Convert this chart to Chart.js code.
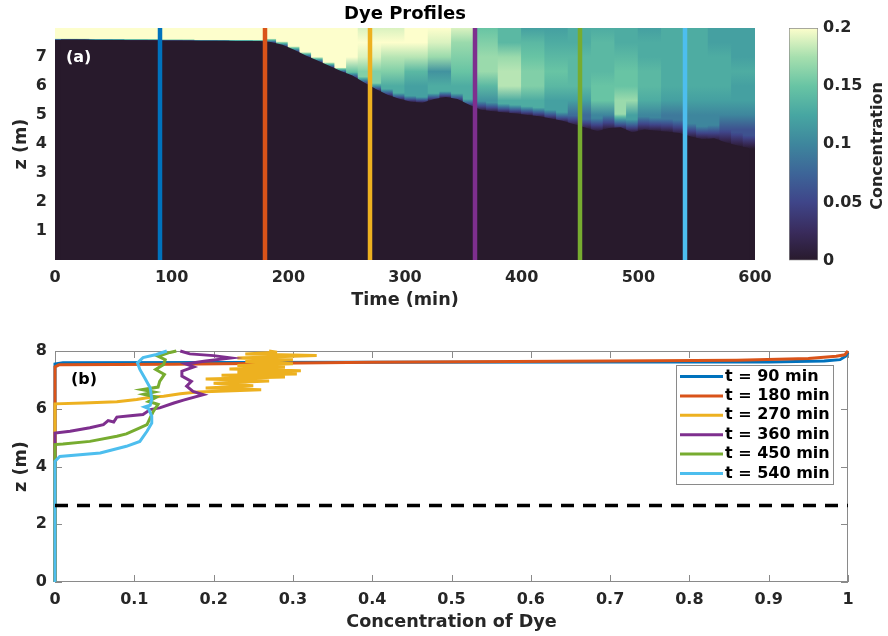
<!DOCTYPE html>
<html>
<head>
<meta charset="utf-8">
<script src="https://cdn.jsdelivr.net/npm/chart.js@4.4.1/dist/chart.umd.min.js"></script>
<style>
body{margin:0;background:#fff;}
#wrap{position:relative;width:888px;height:636px;}
canvas{position:absolute;}
</style>
</head>
<body>
<div id="wrap">
<canvas id="heat" width="780" height="315" style="left:0;top:0"></canvas>
<canvas id="cbar" width="108" height="315" style="left:780px;top:0"></canvas>
<canvas id="prof" width="888" height="316" style="left:0;top:320px"></canvas>
</div>
<script>
// ---- axes / ticks
let timeTicks = [0,100,200,300,400,500,600];
let zTicksA = [1,2,3,4,5,6,7];
let cbarTicks = [0,0.05,0.1,0.15,0.2];
let concTicks = [0,0.1,0.2,0.3,0.4,0.5,0.6,0.7,0.8,0.9,1];
let zTicksB = [0,2,4,6,8];
let zTop = 8;
let cMax = 0.2;
let dashZ = 2.65;

// ---- profile times (vertical lines in (a), curves in (b))
let profileTimes = [90,180,270,360,450,540];
let profileColors = ['#0072BD','#D95319','#EDB120','#7E2F8E','#77AC30','#4DBEEE'];

// ---- heat map: 10 min columns, depth of the dark (undyed) layer
let binTimes = [5,15,25,35,45,55,65,75,85,95,105,115,125,135,145,155,165,175,185,195,
                205,215,225,235,245,255,265,275,285,295,305,315,325,335,345,355,365,375,385,395,
                405,415,425,435,445,455,465,475,485,495,505,515,525,535,545,555,565,575,585,595];
let iface = [7.6,7.6,7.6,7.59,7.59,7.59,7.58,7.58,7.58,7.57,7.57,7.57,7.56,7.56,7.56,7.55,7.55,7.55,
             7.52,7.42,7.25,7.05,6.88,6.7,6.52,6.36,6.12,5.9,
             5.7,5.56,5.46,5.42,5.55,5.62,5.55,5.35,5.18,5.13,
             5.09,5.05,5.0,4.96,4.88,4.8,4.68,4.56,4.44,4.55,
             4.58,4.4,4.5,4.46,4.42,4.38,4.26,4.16,4.2,4.05,
             3.95,3.85];

// concentration above the interface, 20 min columns (t = 10,30,...,590), rows by depth
let edgeDepth = [0.04,0.04,0.04,0.04,0.04,0.04,0.04,0.04,0.04,
                 0.12,0.12,0.12,0.12,0.2,0.2,0.2,0.2,0.2,
                 0.3,0.3,0.3,0.3,0.3,0.45,0.45,0.45,0.45,0.45,0.45,0.45];
let rowZ = [8.0,7.5,7.0,6.5,6.0,5.5,5.0,4.5,4.0];
let conc80 = [0.2,0.2,0.2,0.2,0.2,0.2,0.2,0.2,0.2, 0.2,0.2,0.2,0.2,0.19,0.19,0.2,0.2,0.19,0.15,0.14,0.12,0.12,0.13,0.13,0.13,0.12,0.13,0.13,0.12,0.12];
let conc75 = [0,0,0,0,0,0,0,0,0, 0.2,0.2,0.2,0.2,0.2,0.2,0.2,0.19,0.17,0.16,0.14,0.14,0.13,0.13,0.14,0.13,0.13,0.13,0.13,0.12,0.12];
let conc70 = [0,0,0,0,0,0,0,0,0, 0,0.2,0.2,0.2,0.19,0.18,0.18,0.17,0.16,0.17,0.17,0.15,0.14,0.14,0.14,0.14,0.13,0.13,0.13,0.13,0.12];
let conc65 = [0,0,0,0,0,0,0,0,0, 0,0,0,0.15,0.16,0.16,0.14,0.11,0.15,0.17,0.18,0.16,0.15,0.14,0.14,0.15,0.14,0.13,0.13,0.13,0.13];
let conc60 = [0,0,0,0,0,0,0,0,0, 0,0,0,0,0.12,0.13,0.12,0.13,0.13,0.14,0.18,0.16,0.14,0.14,0.15,0.15,0.14,0.13,0.13,0.13,0.12];
let conc55 = [0,0,0,0,0,0,0,0,0, 0,0,0,0,0,0,0.08,0.06,0.08,0.11,0.13,0.13,0.12,0.12,0.15,0.17,0.13,0.12,0.12,0.12,0.12];
let conc50 = [0,0,0,0,0,0,0,0,0, 0,0,0,0,0,0,0,0,0,0,0, 0.07,0.07,0.08,0.1,0.12,0.1,0.09,0.1,0.1,0.1];
let conc45 = [0,0,0,0,0,0,0,0,0, 0,0,0,0,0,0,0,0,0,0,0, 0,0,0,0.03,0.04,0.04,0.05,0.07,0.06,0.06];
let conc40 = [0,0,0,0,0,0,0,0,0, 0,0,0,0,0,0,0,0,0,0,0, 0,0,0,0,0,0,0,0,0,0.03];
let concRows = [conc80,conc75,conc70,conc65,conc60,conc55,conc50,conc45,conc40];

// ---- profiles (b): [concentration, z]
let prof90 = [[0,0],[0,7.55],[0.01,7.59],[0.4,7.61],[0.7,7.62],[0.9,7.62],[0.97,7.65],[0.99,7.7],[0.997,7.82],[1,7.95]];
let prof180 = [[0,0],[0,7.45],[0.005,7.52],[0.15,7.54],[0.4,7.61],[0.7,7.65],[0.86,7.68],[0.95,7.74],[0.985,7.82],[0.996,7.87],[1,8.0]];
let prof270 = [[0,0],[0,6.17],[0.036,6.2],[0.078,6.24],[0.103,6.32],[0.12,6.4],[0.137,6.43],[0.158,6.52],[0.18,6.58],[0.26,6.66],[0.19,6.72],[0.25,6.8],[0.2,6.88],[0.27,6.96],[0.19,7.03],[0.29,7.1],[0.21,7.16],[0.305,7.2],[0.23,7.26],[0.31,7.32],[0.22,7.38],[0.29,7.44],[0.23,7.5],[0.3,7.56],[0.24,7.64],[0.3,7.7],[0.23,7.76],[0.33,7.84],[0.24,7.9],[0.28,7.96],[0.27,8.0]];
let prof360 = [[0,0],[0,5.16],[0.019,5.22],[0.044,5.34],[0.061,5.45],[0.067,5.59],[0.074,5.54],[0.078,5.71],[0.095,5.76],[0.111,5.8],[0.12,5.97],[0.132,6.03],[0.15,6.2],[0.162,6.3],[0.187,6.49],[0.174,6.6],[0.166,6.78],[0.172,6.95],[0.16,7.13],[0.16,7.3],[0.175,7.45],[0.165,7.55],[0.19,7.65],[0.222,7.76],[0.2,7.84],[0.17,7.9],[0.158,8.0]];
let prof450 = [[0,0],[0,4.76],[0.01,4.78],[0.044,4.87],[0.078,5.05],[0.09,5.13],[0.107,5.34],[0.116,5.45],[0.12,5.68],[0.124,5.91],[0.13,6.15],[0.118,6.25],[0.128,6.4],[0.112,6.5],[0.125,6.58],[0.11,6.66],[0.13,6.75],[0.132,6.95],[0.138,7.19],[0.127,7.36],[0.137,7.53],[0.139,7.7],[0.13,7.82],[0.145,7.95],[0.153,8.0]];
let prof540 = [[0,0],[0,4.18],[0.006,4.35],[0.057,4.47],[0.09,4.7],[0.107,4.87],[0.116,5.22],[0.122,5.5],[0.122,5.74],[0.118,6.0],[0.113,6.06],[0.12,6.12],[0.122,6.32],[0.12,6.73],[0.113,7.07],[0.107,7.36],[0.104,7.59],[0.111,7.77],[0.128,7.88],[0.141,8.0]];
let profiles = [prof90,prof180,prof270,prof360,prof450,prof540];


// colormap (cmocean deep, reversed)
let cmapStops = [[0,'#281a2c'],[0.12,'#392b5b'],[0.25,'#3f4589'],[0.375,'#3d6598'],[0.5,'#3e869d'],
                 [0.625,'#47a6a2'],[0.75,'#68c4a4'],[0.875,'#a6dfae'],[1,'#fdfecc']];

function hexRgb(h){
    return [parseInt(h.slice(1,3),16),parseInt(h.slice(3,5),16),parseInt(h.slice(5,7),16)];
}

function cmap(c){
    let f = Math.max(0, Math.min(1, c / cMax));
    for(let k=1;k<cmapStops.length;k++){
        if(f <= cmapStops[k][0]){
            let a = cmapStops[k-1], b = cmapStops[k];
            let u = (f - a[0]) / (b[0] - a[0]);
            let ca = hexRgb(a[1]), cb = hexRgb(b[1]);
            let r = ca.map((v,n)=>Math.round(v + (cb[n]-v)*u));
            return 'rgb('+r[0]+','+r[1]+','+r[2]+')';
        }
    }
    return cmapStops[cmapStops.length-1][1];
}

// vertical colour of one 10 min column: dark below, fringe, then the dye rows
function dyeFill(c){
    let chart = c.chart;
    if(!chart.chartArea || c.dataIndex === undefined) return cmap(cMax);
    let i = c.dataIndex;
    let j = Math.floor(binTimes[i] / 20);
    let y = chart.scales.y;
    let zb = iface[i];
    let zPrev = (zb + iface[Math.max(0,i-1)]) / 2;
    let zNext = (zb + iface[Math.min(iface.length-1,i+1)]) / 2;
    let zLow = Math.min(zb, zPrev, zNext) - 0.02;
    let ze = zb + edgeDepth[j];
    let g = chart.ctx.createLinearGradient(0, y.getPixelForValue(0), 0, y.getPixelForValue(zTop));
    let pos = z => Math.min(1, Math.max(0, z / zTop));
    g.addColorStop(0, cmap(0));
    g.addColorStop(pos(zLow), cmap(0));
    let first = true;
    for(let r=rowZ.length-1;r>=0;r--){
        if(rowZ[r] < ze) continue;
        let v = concRows[r][j];
        if(first){
            // fringe follows the colour map from 0 up to the first row value
            for(let k=1;k<=6;k++){
                g.addColorStop(pos(zLow + (ze - zLow) * k / 6), cmap(v * k / 6));
            }
            first = false;
        }
        g.addColorStop(pos(rowZ[r]), cmap(v));
    }
    return g;
}

Chart.defaults.font.family = '"DejaVu Sans"';
Chart.defaults.font.weight = 'bold';
Chart.defaults.color = '#262626';

let tickFont = {size:16, weight:'bold'};
let titleFont = {size:17.6, weight:'bold'};


// ---------- (a) heat map
let labelA = {
    id:'labelA',
    afterDatasetsDraw(chart){
        let ctx = chart.ctx, a = chart.chartArea;
        ctx.save();
        ctx.fillStyle = '#ffffff';
        ctx.font = 'bold 16px "DejaVu Sans"';
        ctx.textBaseline = 'middle';
        ctx.fillText('(a)', a.left + 11, a.top + 30);
        ctx.restore();
    }
};

let heatDatasets = [];
profileTimes.forEach(function(t,k){
    heatDatasets.push({
        type:'line',
        data:[{x:t,y:0},{x:t,y:zTop}],
        borderColor:profileColors[k],
        borderWidth:4.5,
        pointRadius:0,
        order:0
    });
});
// undyed lower layer
heatDatasets.push({
    type:'line',
    data:binTimes.map((t,i)=>({x:t,y:iface[i]})),
    fill:'origin',
    backgroundColor:cmap(0),
    borderColor:cmap(0),
    borderWidth:0,
    pointRadius:0,
    order:1
});
heatDatasets.push({
    type:'bar',
    data:binTimes.map((t,i)=>({x:t,y:[0,zTop]})),
    backgroundColor:dyeFill,
    borderWidth:0,
    grouped:false,
    barPercentage:1,
    categoryPercentage:1,
    inflateAmount:0.6,
    order:3
});

new Chart(document.getElementById('heat'),{
    type:'bar',
    data:{datasets:heatDatasets},
    plugins:[labelA],
    options:{
        responsive:false,
        animation:false,
        events:[],
        layout:{padding:{left:0,right:25,top:0,bottom:0}},
        plugins:{
            legend:{display:false},
            tooltip:{enabled:false},
            title:{display:true,text:'Dye Profiles',fullSize:false,color:'#000',
                   font:{size:18,weight:'bold'},padding:{top:4,bottom:2.4}}
        },
        scales:{
            x:{
                type:'linear',min:0,max:600,offset:false,
                grid:{display:false,drawTicks:false},
                border:{display:false},
                afterBuildTicks:s=>{ s.ticks = timeTicks.map(v=>({value:v})); },
                afterFit:s=>{ s.height = 55; },
                ticks:{padding:8,font:tickFont,maxRotation:0,callback:v=>String(v)},
                title:{display:true,text:'Time (min)',font:titleFont,padding:{top:4,bottom:4}}
            },
            y:{
                min:0,max:zTop,
                grid:{display:false,drawTicks:false},
                border:{display:false},
                afterBuildTicks:s=>{ s.ticks = zTicksA.map(v=>({value:v})); },
                afterFit:s=>{ s.width = 55; },
                ticks:{padding:8,font:tickFont,callback:v=>String(v)},
                title:{display:true,text:'z (m)',font:titleFont,padding:{top:11,bottom:11}}
            }
        }
    }
});


// ---------- colorbar
let cbarLabel = {
    id:'cbarLabel',
    afterDraw(chart){
        let ctx = chart.ctx;
        ctx.save();
        ctx.translate(97.5, 146);
        ctx.rotate(-Math.PI/2);
        ctx.textAlign = 'center';
        ctx.textBaseline = 'middle';
        ctx.fillStyle = '#262626';
        ctx.font = 'bold 16px "DejaVu Sans"';
        ctx.fillText('Concentration', 0, 0);
        ctx.restore();
    }
};

function cbarFill(c){
    let chart = c.chart;
    if(!chart.chartArea) return cmap(cMax / 2);
    let y = chart.scales.y;
    let g = chart.ctx.createLinearGradient(0, y.getPixelForValue(0), 0, y.getPixelForValue(cMax));
    cmapStops.forEach(s=>g.addColorStop(s[0], s[1]));
    return g;
}

new Chart(document.getElementById('cbar'),{
    type:'bar',
    data:{labels:[''],datasets:[{data:[[0,cMax]],backgroundColor:cbarFill,borderColor:'#8c8c8c',
          borderWidth:1,borderSkipped:false,barPercentage:1,categoryPercentage:1}]},
    plugins:[cbarLabel],
    options:{
        responsive:false,
        animation:false,
        events:[],
        layout:{padding:{left:9,right:0,top:28,bottom:54.5}},
        plugins:{legend:{display:false},tooltip:{enabled:false}},
        scales:{
            x:{display:false},
            y:{
                position:'right',min:0,max:cMax,
                grid:{display:false,drawTicks:false},
                border:{display:false},
                afterBuildTicks:s=>{ s.ticks = cbarTicks.map(v=>({value:v})); },
                afterFit:s=>{ s.width = 70; },
                ticks:{padding:5,font:tickFont,callback:v=>String(v)}
            }
        }
    }
});


// ---------- (b) profiles
let axesBox = {
    id:'axesBox',
    beforeDatasetsDraw(chart){
        let ctx = chart.ctx, a = chart.chartArea;
        let x = chart.scales.x, y = chart.scales.y;
        ctx.save();
        ctx.strokeStyle = '#8a8a8a';
        ctx.lineWidth = 1;
        ctx.strokeRect(Math.round(a.left)+0.5, Math.round(a.top)+0.5,
                       Math.round(a.right-a.left)-1, Math.round(a.bottom-a.top)-1);
        ctx.beginPath();
        concTicks.forEach(v=>{
            let p = Math.round(x.getPixelForValue(v))+0.5;
            ctx.moveTo(p, a.bottom); ctx.lineTo(p, a.bottom-7);
            ctx.moveTo(p, a.top); ctx.lineTo(p, a.top+7);
        });
        zTicksB.forEach(v=>{
            let p = Math.round(y.getPixelForValue(v))+0.5;
            ctx.moveTo(a.left, p); ctx.lineTo(a.left+7, p);
            ctx.moveTo(a.right, p); ctx.lineTo(a.right-7, p);
        });
        ctx.stroke();
        ctx.restore();
    },
    afterDatasetsDraw(chart){
        let ctx = chart.ctx, a = chart.chartArea;
        ctx.save();
        ctx.fillStyle = '#000';
        ctx.font = 'bold 16px "DejaVu Sans"';
        ctx.textBaseline = 'middle';
        ctx.fillText('(b)', a.left + 16, a.top + 29);
        ctx.restore();
    }
};

let legendBox = {
    id:'legendBox',
    afterDraw(chart){
        let ctx = chart.ctx, a = chart.chartArea;
        let w = 157, h = 119;
        let x0 = Math.round(a.right - 172), y0 = Math.round(a.top + 14);
        ctx.save();
        ctx.fillStyle = '#ffffff';
        ctx.fillRect(x0, y0, w, h);
        ctx.strokeStyle = '#8a8a8a';
        ctx.lineWidth = 1;
        ctx.strokeRect(x0+0.5, y0+0.5, w, h);
        ctx.font = 'bold 16px "DejaVu Sans"';
        ctx.textBaseline = 'middle';
        profileTimes.forEach(function(t,k){
            let yy = y0 + 11.5 + k*19.4;
            ctx.strokeStyle = profileColors[k];
            ctx.lineWidth = 3;
            ctx.beginPath();
            ctx.moveTo(x0+4, yy); ctx.lineTo(x0+47, yy);
            ctx.stroke();
            ctx.fillStyle = '#000';
            ctx.fillText(chart.data.datasets[k].label, x0+49, yy);
        });
        ctx.restore();
    }
};

let profDatasets = profiles.map(function(p,k){
    return {
        label:'t = ' + profileTimes[k] + ' min',
        data:p.map(q=>({x:q[0],y:q[1]})),
        showLine:true,
        borderColor:profileColors[k],
        borderWidth:3,
        pointRadius:0,
        fill:false,
        clip:false,
        order:profiles.length - 1 - k
    };
});
profDatasets.push({
    label:'dash',
    data:[{x:concTicks[0],y:dashZ},{x:concTicks[concTicks.length-1],y:dashZ}],
    showLine:true,
    borderColor:'#000',
    borderWidth:3.5,
    borderDash:[13,9],
    pointRadius:0,
    order:-1
});

new Chart(document.getElementById('prof'),{
    type:'scatter',
    data:{datasets:profDatasets},
    plugins:[axesBox,legendBox],
    options:{
        responsive:false,
        animation:false,
        events:[],
        layout:{padding:{left:0,right:40,top:31,bottom:0}},
        plugins:{legend:{display:false},tooltip:{enabled:false}},
        scales:{
            x:{
                type:'linear',min:0,max:1,
                grid:{display:false,drawTicks:false},
                border:{display:false},
                afterBuildTicks:s=>{ s.ticks = concTicks.map(v=>({value:v})); },
                afterFit:s=>{ s.height = 54; },
                ticks:{padding:8,font:tickFont,maxRotation:0,callback:v=>String(v)},
                title:{display:true,text:'Concentration of Dye',font:titleFont,padding:{top:3.5,bottom:3.5}}
            },
            y:{
                type:'linear',min:0,max:zTop,
                grid:{display:false,drawTicks:false},
                border:{display:false},
                afterBuildTicks:s=>{ s.ticks = zTicksB.map(v=>({value:v})); },
                afterFit:s=>{ s.width = 55; },
                ticks:{padding:8,font:tickFont,callback:v=>String(v)},
                title:{display:true,text:'z (m)',font:titleFont,padding:{top:11,bottom:11}}
            }
        }
    }
});
</script>
</body>
</html>
